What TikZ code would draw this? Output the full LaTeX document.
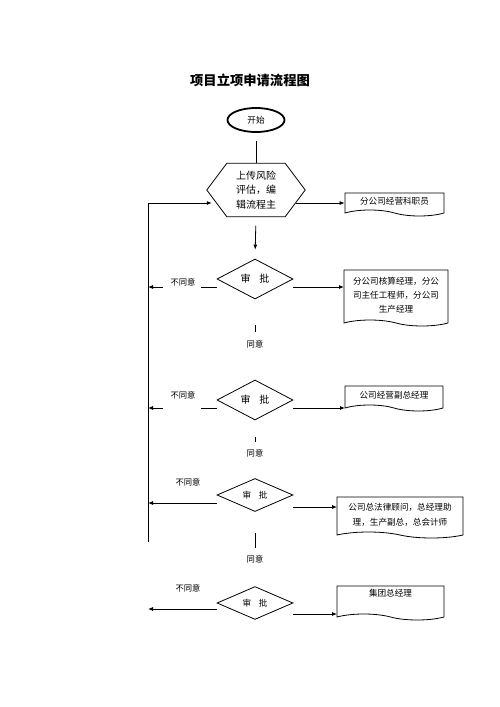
\documentclass[tikz,border=0pt]{standalone}
\usepackage{fontspec}
\newfontfamily\cjk{Noto Sans CJK SC}
\usetikzlibrary{shapes.geometric,shapes.symbols,arrows.meta}
\newcommand{\ver}[2]{\coordinate (#1) at (#2);}

\begin{document}
\begin{tikzpicture}[x=1pt,y=-1pt,font=\cjk,
  wire/.style={line width=0.8pt},
  arr/.style={line width=0.8pt,-{Latex[length=5pt,width=4pt]}},
  doc/.style={tape,draw,line width=0.8pt,tape bend top=none,tape bend bottom=out and in,tape bend height=6pt,align=center,inner sep=0pt,font=\cjk\fontsize{8.6}{14}\selectfont},
  check/.style={diamond,draw,line width=0.8pt,inner sep=0pt,minimum width=76pt},
  note/.style={font=\cjk\fontsize{8.3}{10}\selectfont},
  cut/.style={fill=white,minimum width=38pt,minimum height=2pt,inner sep=0pt}]
  \useasboundingbox (0,0) rectangle (500,707);
  \node[font=\cjk\bfseries\fontsize{13.3}{16}\selectfont] (title) at (250,80) {项目立项申请流程图};
  \node[ellipse,draw,line width=1.8pt,minimum width=57pt,minimum height=24pt,inner sep=0pt,font=\cjk\fontsize{8.6}{10}\selectfont] (start) at (256,120) {开始};
  \node[minimum width=98pt,minimum height=53pt,inner sep=0pt,align=center,font=\cjk\fontsize{10}{14.5}\selectfont] (hex) at (256,190) {上传风险\\评估，编\\辑流程主};
  \draw[wire] (hex.west) -- ([xshift=20pt]hex.north west) -- ([xshift=-20pt]hex.north east) -- (hex.east)
    -- ([xshift=-20pt]hex.south east) -- ([xshift=20pt]hex.south west) -- cycle;

  \node[doc,minimum width=99pt,minimum height=23pt] (b1) at (394.5,201.5) {分公司经营科职员};
  \node[doc,minimum width=104pt,minimum height=56pt] (b2) at (396,295) {分公司核算经理，分公\\司主任工程师，分公司\\生产经理};
  \node[doc,minimum width=98pt,minimum height=25pt] (b3) at (394,395.5) {公司经营副总经理};
  \node[doc,minimum width=126pt,minimum height=41pt,font=\cjk\fontsize{8.6}{15}\selectfont] (b4) at (400,514.5) {公司总法律顾问，总经理助\\理，生产副总，总会计师};
  \node[doc,minimum width=107pt,minimum height=34pt] (b5) at (390.5,600) {集团总经理\\\mbox{}};

  \node[check,minimum height=40pt,font=\cjk\fontsize{10}{12}\selectfont] (d1) at (255,279) {审\hspace{0.9em}批};
  \node[check,minimum height=40pt,font=\cjk\fontsize{10}{12}\selectfont] (d2) at (255,400) {审\hspace{0.9em}批};
  \node[check,minimum height=33pt,font=\cjk\fontsize{8.6}{10}\selectfont] (d3) at (255,495) {审\hspace{0.9em}批};
  \node[check,minimum height=31pt,font=\cjk\fontsize{8.6}{10}\selectfont] (d4) at (255,603) {审\hspace{0.9em}批};

  \node[note] (ok1) at (255,344) {同意};
  \node[note] (ok2) at (255,453) {同意};
  \node[note] (ok3) at (255,559) {同意};

  \ver{lt}{148,203}
  \ver{lb}{148,542}
  \ver{l1}{148,287}
  \ver{l2}{148,408}
  \ver{l3}{148,503}
  \ver{l4}{148,609}
  \ver{e1}{344,287}
  \ver{e2}{345,408}
  \ver{e3}{337,507}
  \ver{e4}{337,614}

  \draw[wire,shorten <=8pt] (start.south) -- (hex.north);
  \draw[wire] (lb) -- (lt);
  \draw[arr,shorten >=-5pt] (lt) -- (lt -| hex.west);
  \draw[arr,shorten <=-9pt] (lt -| hex.east) -- (lt -| b1.west);
  \draw[arr,shorten <=9pt,shorten >=9pt] (hex.south) -- (d1.north);

  \draw[arr] (d1.west |- l1) -- node[cut]{} (l1);
  \draw[arr] (d2.west |- l2) -- node[cut]{} (l2);
  \draw[arr] (d3.west |- l3) -- (l3);
  \draw[arr] (d4.west |- l4) -- (l4);

  \draw[arr] (d1.east |- e1) -- (e1);
  \draw[arr] (d2.east |- e2) -- (e2);
  \draw[arr] (d3.east |- e3) -- (e3);
  \draw[arr] (d4.east |- e4) -- (e4);

  \draw[wire,shorten <=26pt,shorten >=4.5pt] (d1.south) -- (ok1.north);
  \draw[wire,shorten <=17pt,shorten >=3.5pt] (d2.south) -- (ok2.north);
  \draw[wire,shorten <=21.5pt,shorten >=3.5pt] (d3.south) -- (ok3.north);

  \node[note] (n1) at (183,282) {不同意};
  \node[note] (n2) at (183,395) {不同意};
  \node[note] (n3) at (188,482) {不同意};
  \node[note] (n4) at (188,588) {不同意};
\end{tikzpicture}
\end{document}
